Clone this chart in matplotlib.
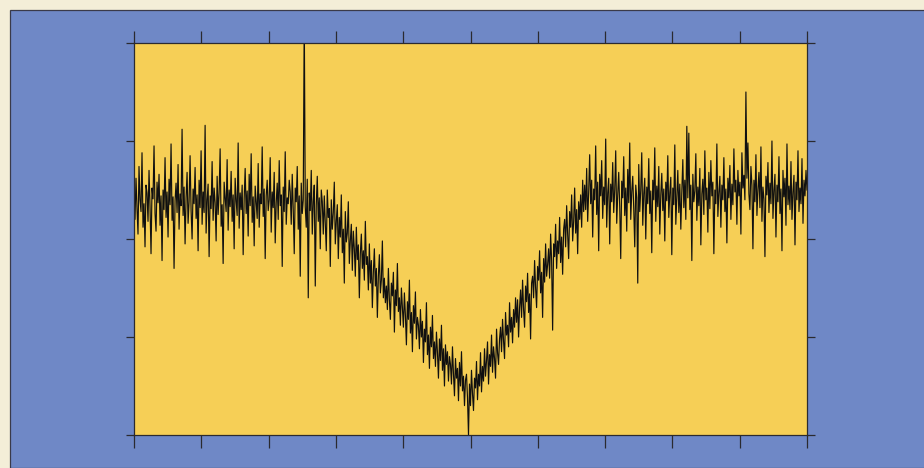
import numpy as np
import matplotlib
matplotlib.use("Agg")
import matplotlib.pyplot as plt
from matplotlib.patches import Rectangle

# trace, about one sample per pixel, y in axis units (0..4)
flat_left = [
    2.45, 2.20, 2.62, 2.31, 2.05, 2.74, 2.40, 2.28, 2.88, 2.12, 2.36, 1.92, 2.55, 2.47, 2.18, 2.70,
    2.33, 1.85, 2.52, 2.41, 2.95, 2.26, 2.08, 2.58, 2.37, 2.66, 2.14, 2.44, 1.78, 2.50, 2.30, 2.83,
    2.22, 2.48, 2.02, 2.61, 2.35, 2.97, 2.19, 2.43, 1.70, 2.39, 2.57, 2.27, 2.76, 2.10, 2.46, 2.34,
    3.12, 2.24, 2.53, 1.95, 2.42, 2.68, 2.16, 2.38, 2.85, 2.29, 2.00, 2.51, 2.36, 2.73, 2.21, 2.45,
    1.88, 2.60, 2.32, 2.90, 2.15, 2.48, 2.27, 3.16, 2.06, 2.40, 2.56, 1.82, 2.44, 2.31, 2.79, 2.19,
    2.52, 2.37, 1.98, 2.64, 2.25, 2.47, 2.92, 2.13, 2.35, 1.75, 2.58, 2.42, 2.28, 2.81, 2.09, 2.50,
    2.33, 2.69, 2.18, 2.45, 1.90, 2.62, 2.39, 2.24, 2.98, 2.11, 2.47, 2.30, 2.55, 1.84, 2.41, 2.72,
    2.26, 2.49, 2.03, 2.66, 2.34, 2.87, 2.17, 2.43, 1.93, 2.54, 2.38, 2.21, 2.77, 2.12, 2.46, 2.36,
    2.94, 2.23, 2.51, 1.80, 2.44, 2.60, 2.29, 2.40, 2.83, 2.07, 2.48, 2.32, 2.68, 1.96, 2.37, 2.57,
    2.20, 2.80, 2.34, 2.45, 1.72, 2.53, 2.28, 2.89, 2.15, 2.42, 2.36, 2.60,
]
glitch_zone = [
    2.48, 2.15, 2.66, 2.30, 1.85, 2.52, 2.38, 2.74, 2.10, 2.44, 1.62, 2.57, 2.26, 2.40, 4.30, 2.33,
    2.12, 2.61, 1.40, 2.47, 2.29, 2.70, 2.05, 2.38, 2.55, 1.52, 2.35, 2.64, 2.18, 2.42, 1.90, 2.50,
]
descent = [
    2.38, 2.05, 2.44, 2.16, 1.88, 2.50, 2.22, 2.31, 1.72, 2.40, 2.10, 2.27, 2.58, 1.95, 2.18, 2.35,
    1.80, 2.22, 2.02, 2.45, 1.86, 2.10, 1.55, 2.28, 1.97, 2.06, 2.38, 1.75, 1.98, 2.15, 1.68, 2.08,
    1.90, 1.62, 2.12, 1.79, 1.94, 1.40, 1.85, 2.05, 1.70, 1.88, 1.58, 2.18, 1.74, 1.82, 1.48, 1.95,
    1.55, 1.78, 1.30, 1.66, 1.90, 1.52, 1.70, 1.20, 1.62, 1.84, 1.45, 1.58, 1.98, 1.40, 1.60, 1.35,
    1.52, 1.28, 1.70, 1.38, 1.18, 1.55, 1.42, 1.66, 1.05, 1.48, 1.32, 1.75, 1.26, 1.40, 1.12, 1.50,
    1.30, 1.10, 1.45, 1.22, 0.92, 1.36, 1.18, 1.58, 1.04, 1.25, 0.85, 1.32, 1.14, 1.46, 0.98, 1.20,
    1.12, 0.88, 1.28, 1.00, 1.16, 0.74, 1.08, 0.95, 1.35, 0.82, 1.02, 0.68, 1.10, 0.90, 1.22, 0.78,
    0.95, 0.70, 1.05, 0.84, 0.58, 0.98, 0.76, 1.12, 0.66, 0.88, 0.50, 0.92, 0.72, 0.85, 0.55, 0.80,
    0.72, 0.52, 0.90, 0.62, 0.40, 0.78, 0.58, 0.68, 0.35, 0.74, 0.50, 0.85, 0.45, 0.60, 0.30, 0.56,
    0.62, 0.38,
]
ascent = [
    0.00, 0.52, 0.30, 0.66, 0.42, 0.25, 0.58, 0.48, 0.75, 0.36, 0.62, 0.50, 0.84, 0.44, 0.70, 0.55,
    0.88, 0.60, 0.76, 0.95, 0.52, 0.82, 0.70, 1.02, 0.64, 0.90, 0.78, 0.58, 1.08, 0.84, 0.72, 0.98,
    1.10, 0.85, 1.18, 0.96, 0.78, 1.25, 1.02, 1.12, 0.90, 1.35, 1.05, 1.20, 0.94, 1.28, 1.10, 1.40,
    1.15, 1.38, 1.00, 1.30, 1.48, 1.20, 1.58, 1.28, 1.10, 1.52, 1.36, 1.65, 1.25, 1.44, 0.98, 1.55,
    1.62, 1.40, 1.78, 1.50, 1.30, 1.72, 1.58, 1.88, 1.45, 1.66, 1.20, 1.80, 1.56, 1.95, 1.62, 1.74,
    1.90, 1.60, 2.05, 1.78, 1.07, 1.95, 1.82, 2.15, 1.70, 1.98, 1.85, 2.22, 1.76, 2.02, 1.64, 2.10,
    2.20, 1.92, 2.34, 2.05, 1.80, 2.28, 2.12, 2.45, 1.98, 2.18, 2.52, 2.06, 2.30, 1.85, 2.38, 2.20,
    2.45, 2.12, 2.60, 2.28,
]
flat_right = [
    2.55, 2.30, 2.72, 2.18, 2.48, 2.86, 2.36, 2.60, 2.02, 2.51, 2.40, 2.95, 2.25, 2.58, 1.88, 2.66,
    2.44, 2.80, 2.21, 2.53, 2.35, 3.02, 2.12, 2.47, 2.62, 1.95, 2.56, 2.38, 2.78, 2.27, 2.50, 2.90,
    2.16, 2.45, 2.68, 2.33, 1.80, 2.59, 2.42, 2.84, 2.24, 2.52, 2.08, 2.71, 2.37, 2.98, 2.20, 2.48,
    2.64, 2.31, 1.92, 2.55, 2.42, 1.55, 2.76, 2.28, 2.50, 2.88, 2.14, 2.46, 2.62, 2.00, 2.53, 2.36,
    2.82, 2.26, 2.49, 1.86, 2.60, 2.40, 2.93, 2.18, 2.54, 2.33, 2.74, 2.05, 2.45, 2.67, 2.29, 2.51,
    1.98, 2.58, 2.39, 2.85, 2.22, 2.47, 2.63, 1.84, 2.52, 2.35, 2.96, 2.15, 2.44, 2.70, 2.27, 2.56,
    2.10, 2.48, 2.81, 2.32, 2.60, 2.20, 3.15, 2.42, 3.08, 2.30, 2.55, 1.78, 2.66, 2.38, 2.49, 2.87,
    2.19, 2.53, 2.34, 2.72, 1.94, 2.46, 2.61, 2.25, 2.90, 2.40, 2.52, 2.07, 2.68, 2.31, 2.80, 2.44,
    2.58, 1.85, 2.50, 2.36, 2.97, 2.23, 2.47, 2.64, 2.12, 2.55, 2.40, 2.83, 2.28, 2.51, 1.96, 2.62,
    2.42, 2.75, 2.20, 2.56, 2.35, 2.92, 2.48, 2.60, 2.15, 2.70, 2.44, 2.58, 2.05, 2.88, 2.52, 2.65,
    2.40, 3.50, 2.62, 2.98, 2.46, 2.30, 2.74, 2.55, 1.90, 2.60, 2.38, 2.86, 2.24, 2.50, 2.68, 2.32,
    2.94, 2.18, 2.53, 2.41, 1.82, 2.64, 2.45, 2.78, 2.27, 2.57, 2.36, 3.00, 2.21, 2.49, 2.66, 2.02,
    2.55, 2.38, 2.84, 2.26, 2.51, 1.88, 2.70, 2.43, 2.62, 2.14, 2.97, 2.35, 2.54, 2.30, 2.79, 2.20,
    2.48, 2.65, 1.94, 2.58, 2.40, 2.90, 2.28, 2.52, 2.36, 2.82, 2.16, 2.60, 2.44, 2.70, 2.50,
]

signal = np.array(flat_left + glitch_zone + descent + ascent + flat_right)
t = np.linspace(0, 10, len(signal))

fig = plt.figure(figsize=(9.24, 4.68), dpi=100)
fig.patch.set_facecolor("#f4eed8")

# blue panel behind the plot
panel = Rectangle((10 / 924, 0), 1, 1 - 10 / 468, transform=fig.transFigure,
                  facecolor="#6f88c6", edgecolor="#3a3a4a", linewidth=0.9, zorder=-5)
fig.patches.append(panel)

ax = fig.add_axes([134 / 924, 33 / 468, 673 / 924, 392 / 468])
ax.set_zorder(2)
ax.set_facecolor("#f6cf56")
ax.plot(t, signal, color="#101010", linewidth=0.85)

ax.set_xlim(0, 10)
ax.set_ylim(0, 4)
ax.set_xticks(np.arange(0, 11, 1))
ax.set_yticks(np.arange(0, 5, 1))
ax.tick_params(axis="x", direction="out", length=9, width=0.9, color="#2a2a30",
               top=True, bottom=True, labelbottom=False, labeltop=False)
ax.tick_params(axis="y", direction="out", length=6, width=0.9, color="#2a2a30",
               left=True, right=True, labelleft=False, labelright=False)
for s in ax.spines.values():
    s.set_color("#2a2a30")
    s.set_linewidth(0.9)

fig.savefig("out.png", dpi=100, facecolor=fig.get_facecolor())
